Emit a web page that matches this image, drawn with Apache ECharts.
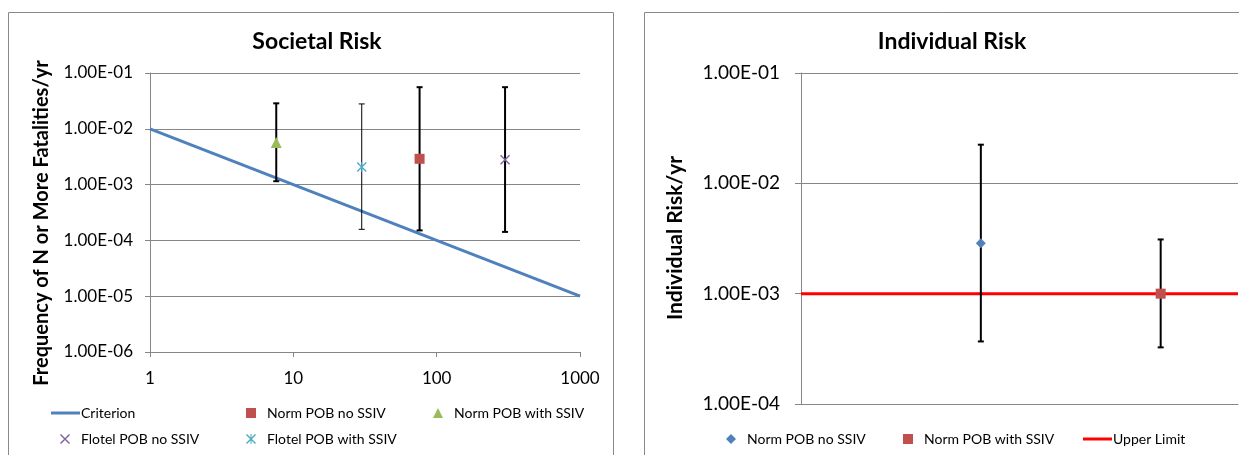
<!DOCTYPE html>
<html>
<head>
<meta charset="utf-8">
<script src="https://cdn.jsdelivr.net/npm/echarts@6/dist/echarts.min.js"></script>
<style>
html,body{margin:0;padding:0;background:#fff;}
#risk-chart{width:1239px;height:455px;}
</style>
</head>
<body>
<div id="risk-chart"></div>
<script>
// Societal risk (F-N) data
var criterionLine = [[1, 1e-2], [1000, 1e-5]];
var normNoSsiv = [[76, 2.9e-3]];
var normWithSsiv = [[7.6, 5.7e-3]];
var flotelNoSsiv = [[300, 2.8e-3]];
var flotelWithSsiv = [[30, 2.07e-3]];
// error bars: [N, low, high]
var societalRanges = [
  [7.6, 1.15e-3, 2.86e-2],
  [30, 1.58e-4, 2.79e-2],
  [76, 1.51e-4, 5.57e-2],
  [300, 1.42e-4, 5.57e-2]
];

// Individual risk data
var irNoSsiv = [[1, 2.87e-3]];
var irWithSsiv = [[2, 1.0e-3]];
var irRanges = [
  [1, 3.69e-4, 2.24e-2],
  [2, 3.26e-4, 3.1e-3]
];
var upperLimit = [[0, 1e-3], [2.43, 1e-3]];

var FONT = 'Lato';
var GRID_GRAY = '#868686';

// 1.00E-03 style labels
function sciLabel(v) {
  var e = Math.round(Math.log(v) / Math.LN10);
  var m = v / Math.pow(10, e);
  var a = Math.abs(e);
  return m.toFixed(2) + 'E' + (e < 0 ? '-' : '+') + (a < 10 ? '0' + a : a);
}

var xCross = 'path://M0,1L1,0L10,9L9,10ZM9,0L10,1L1,10L0,9Z';
var xStar = 'path://M0,1L1,0L10,9L9,10ZM9,0L10,1L1,10L0,9ZM4.5,0L5.5,0L5.5,10L4.5,10Z';

var societalBarWidths = [2, 1, 2, 2];

function errorBar(widths) {
  return function (params, api) {
    var x = api.value(0);
    var top = api.coord([x, api.value(2)]);
    var bot = api.coord([x, api.value(1)]);
    var w = widths ? widths[params.dataIndex] : 2;
    var st = { stroke: '#000', lineWidth: w };
    return {
      type: 'group',
      children: [
        { type: 'line', shape: { x1: top[0], y1: top[1], x2: bot[0], y2: bot[1] }, style: st },
        { type: 'line', shape: { x1: top[0] - 3, y1: top[1], x2: top[0] + 3, y2: top[1] }, style: st },
        { type: 'line', shape: { x1: bot[0] - 3, y1: bot[1], x2: bot[0] + 3, y2: bot[1] }, style: st }
      ]
    };
  };
}

// marker legend: 10px icon centred at cx, text starting at cx+16
function markerLegend(cx, top, name) {
  return {
    left: cx - 5, top: top, data: [name], itemWidth: 10, itemHeight: 10,
    selectedMode: false,
    textStyle: { fontFamily: FONT, fontSize: 14, color: '#000', padding: [0, 0, 0, 6] },
    formatter: function (n) { return n.replace(/^IR /, ''); }
  };
}
// line legend: short thick bar, text right after it
function lineLegend(left, top, name, w) {
  return {
    left: left, top: top, data: [{ name: name, icon: 'rect' }], itemWidth: w, itemHeight: 3,
    selectedMode: false,
    textStyle: { fontFamily: FONT, fontSize: 14, color: '#000', padding: [0, 0, 0, -4] }
  };
}

var myChart = echarts.init(document.getElementById('risk-chart'));
var option = {
  backgroundColor: '#fff',
  animation: false,
  title: [
    { text: 'Societal Risk', left: 312, top: 25, textAlign: 'center',
      textStyle: { fontFamily: FONT, fontSize: 23, fontWeight: 'bold', color: '#000' } },
    { text: 'Individual Risk', left: 947, top: 25, textAlign: 'center',
      textStyle: { fontFamily: FONT, fontSize: 23, fontWeight: 'bold', color: '#000' } }
  ],
  graphic: [
    { type: 'rect', shape: { x: 8.5, y: 12.5, width: 605, height: 470 },
      style: { fill: 'none', stroke: '#898989', lineWidth: 1 }, z: -1 },
    { type: 'rect', shape: { x: 644.5, y: 12.5, width: 620, height: 470 },
      style: { fill: 'none', stroke: '#898989', lineWidth: 1 }, z: -1 },
    { type: 'text', x: 42, y: 223, rotation: Math.PI / 2,
      style: { text: 'Frequency of N or More Fatalities/yr', fontFamily: FONT, fontSize: 20,
        fontWeight: 'bold', fill: '#000', align: 'center', verticalAlign: 'middle' } },
    { type: 'text', x: 675, y: 238, rotation: Math.PI / 2,
      style: { text: 'Individual Risk/yr', fontFamily: FONT, fontSize: 21,
        fontWeight: 'bold', fill: '#000', align: 'center', verticalAlign: 'middle' } }
  ],
  legend: [
    lineLegend(46, 401, 'Criterion', 29),
    markerLegend(246, 401, 'Norm POB no SSIV'),
    markerLegend(433, 401, 'Norm POB with SSIV'),
    markerLegend(60, 427, 'Flotel POB no SSIV'),
    markerLegend(246, 427, 'Flotel POB with SSIV'),
    markerLegend(726, 427, 'IR Norm POB no SSIV'),
    markerLegend(903, 427, 'IR Norm POB with SSIV'),
    lineLegend(1078, 427, 'Upper Limit', 29)
  ],
  grid: [
    { left: 150, right: 659, top: 73, bottom: 103 },
    { left: 801, right: 1, top: 73, bottom: 51 }
  ],
  xAxis: [
    { gridIndex: 0, type: 'log', logBase: 10, min: 1, max: 1000,
      axisLine: { lineStyle: { color: GRID_GRAY } },
      axisTick: { show: true, length: 5, lineStyle: { color: GRID_GRAY } },
      axisLabel: { margin: 18, fontFamily: FONT, fontSize: 17, color: '#000',
        formatter: function (v) { return String(Math.round(v)); } },
      splitLine: { show: false }, minorTick: { show: false } },
    { gridIndex: 1, type: 'value', min: 0, max: 2.43,
      axisLine: { lineStyle: { color: GRID_GRAY } },
      axisTick: { show: false }, axisLabel: { show: false }, splitLine: { show: false } }
  ],
  yAxis: [
    { gridIndex: 0, type: 'log', logBase: 10, min: 1e-6, max: 1e-1,
      axisLine: { show: true, lineStyle: { color: GRID_GRAY } },
      axisTick: { show: true, length: 5, lineStyle: { color: GRID_GRAY } },
      axisLabel: { margin: 17, fontFamily: FONT, fontSize: 17, color: '#000', formatter: sciLabel },
      splitLine: { show: true, lineStyle: { color: GRID_GRAY } } },
    { gridIndex: 1, type: 'log', logBase: 10, min: 1e-4, max: 1e-1,
      axisLine: { show: true, lineStyle: { color: GRID_GRAY } },
      axisTick: { show: true, length: 6, lineStyle: { color: GRID_GRAY } },
      axisLabel: { margin: 21, fontFamily: FONT, fontSize: 19, color: '#000', formatter: sciLabel },
      splitLine: { show: true, lineStyle: { color: GRID_GRAY } } }
  ],
  series: [
    { name: 'Criterion', type: 'line', xAxisIndex: 0, yAxisIndex: 0, data: criterionLine,
      showSymbol: false, symbol: 'none', lineStyle: { color: '#4F81BD', width: 3 },
      itemStyle: { color: '#4F81BD' }, z: 2 },
    { name: 'societal-bars', type: 'custom', xAxisIndex: 0, yAxisIndex: 0,
      data: societalRanges, encode: { x: 0, y: [1, 2] },
      renderItem: errorBar(societalBarWidths), z: 3 },
    { name: 'Norm POB no SSIV', type: 'scatter', xAxisIndex: 0, yAxisIndex: 0, data: normNoSsiv,
      symbol: 'rect', symbolSize: 10, itemStyle: { color: '#C0504D', opacity: 1 }, z: 4 },
    { name: 'Norm POB with SSIV', type: 'scatter', xAxisIndex: 0, yAxisIndex: 0, data: normWithSsiv,
      symbol: 'triangle', symbolSize: 11, itemStyle: { color: '#9BBB59', opacity: 1 }, z: 4 },
    { name: 'Flotel POB no SSIV', type: 'scatter', xAxisIndex: 0, yAxisIndex: 0, data: flotelNoSsiv,
      symbol: xCross, symbolSize: 10, itemStyle: { color: '#8064A2', opacity: 1 }, z: 4 },
    { name: 'Flotel POB with SSIV', type: 'scatter', xAxisIndex: 0, yAxisIndex: 0, data: flotelWithSsiv,
      symbol: xStar, symbolSize: 10, itemStyle: { color: '#4BACC6', opacity: 1 }, z: 4 },

    { name: 'Upper Limit', type: 'line', xAxisIndex: 1, yAxisIndex: 1, data: upperLimit,
      showSymbol: false, symbol: 'none', lineStyle: { color: '#FF0000', width: 3 },
      itemStyle: { color: '#FF0000' }, z: 2 },
    { name: 'ir-bars', type: 'custom', xAxisIndex: 1, yAxisIndex: 1,
      data: irRanges, encode: { x: 0, y: [1, 2] },
      renderItem: errorBar(null), z: 3 },
    { name: 'IR Norm POB no SSIV', type: 'scatter', xAxisIndex: 1, yAxisIndex: 1, data: irNoSsiv,
      symbol: 'diamond', symbolSize: 10, itemStyle: { color: '#4F81BD', opacity: 1 }, z: 4 },
    { name: 'IR Norm POB with SSIV', type: 'scatter', xAxisIndex: 1, yAxisIndex: 1, data: irWithSsiv,
      symbol: 'rect', symbolSize: 10, itemStyle: { color: '#C0504D', opacity: 1 }, z: 4 }
  ]
};
myChart.setOption(option);
</script>
</body>
</html>
